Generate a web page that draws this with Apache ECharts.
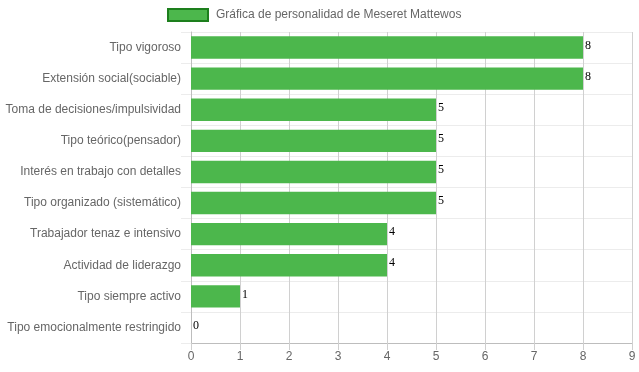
<!DOCTYPE html>
<html><head><meta charset="utf-8">
<script src="https://cdn.jsdelivr.net/npm/echarts@6/dist/echarts.min.js"></script>
<style>html,body{margin:0;padding:0;background:#fff}#c{width:639px;height:372px}</style>
</head><body><div id="c"></div>
<script>
const categories = [
  "Tipo vigoroso",
  "Extensión social(sociable)",
  "Toma de decisiones/impulsividad",
  "Tipo teórico(pensador)",
  "Interés en trabajo con detalles",
  "Tipo organizado (sistemático)",
  "Trabajador tenaz e intensivo",
  "Actividad de liderazgo",
  "Tipo siempre activo",
  "Tipo emocionalmente restringido"
];
const values = [8, 8, 5, 5, 5, 5, 4, 4, 1, 0];
const seriesName = "Gráfica de personalidad de Meseret Mattewos";
const xMin = 0, xMax = 9, xStep = 1;

const chart = echarts.init(document.getElementById('c'), null, {renderer: 'canvas'});
chart.setOption({
  animation: false,
  textStyle: {fontFamily: 'Liberation Sans, Arial, sans-serif'},
  legend: {
    left: 167, top: 8, padding: 0,
    icon: 'rect',
    itemWidth: 40, itemHeight: 12,
    itemGap: 10,
    textStyle: {color: '#666', fontSize: 12, fontFamily: 'Liberation Sans, Arial, sans-serif', padding: [0, 0, 0, 3]},
    data: [{name: seriesName, itemStyle: {color: '#4cb74c', borderColor: '#1d7f1d', borderWidth: 2}}]
  },
  grid: {left: 191, right: 7, top: 32, bottom: 29, containLabel: false},
  xAxis: {
    type: 'value', min: xMin, max: xMax, interval: xStep,
    axisLine: {show: true, lineStyle: {color: '#bdbdbd'}},
    axisTick: {show: true, length: 7, lineStyle: {color: '#cfcfcf'}},
    axisLabel: {color: '#666', fontSize: 12, margin: 8},
    splitLine: {show: true, lineStyle: {color: '#d0d0d0'}}
  },
  yAxis: {
    type: 'category', data: categories, inverse: true,
    axisLine: {show: true, lineStyle: {color: '#bdbdbd'}},
    axisTick: {show: true, length: 10, lineStyle: {color: '#ececec'}},
    axisLabel: {color: '#666', fontSize: 12, margin: 10},
    splitLine: {show: true, lineStyle: {color: '#ececec'}}
  },
  series: [{
    name: seriesName, type: 'bar', data: values,
    barCategoryGap: '28%',
    itemStyle: {color: '#4cb74c'},
    label: {
      show: true, position: 'right', distance: 2, offset: [0, -2],
      color: '#000', fontSize: 12, fontFamily: 'Liberation Serif, Times New Roman, serif'
    }
  }]
});
</script></body></html>
